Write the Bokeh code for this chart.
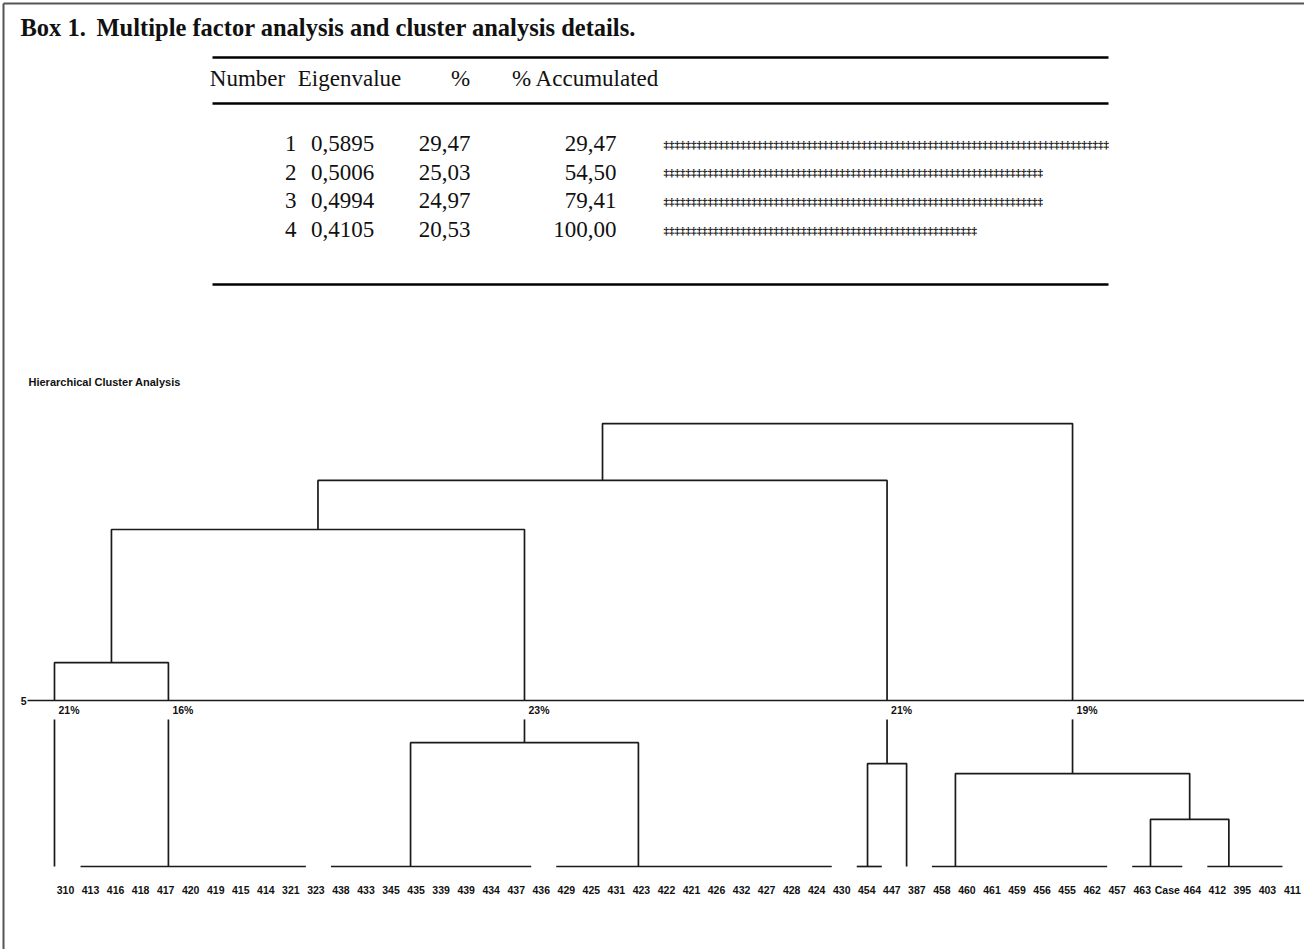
from bokeh.plotting import figure
from bokeh.models import Range1d
from bokeh.embed import file_html
from bokeh.resources import INLINE
from bokeh.core.properties import value

# ---------------- data ----------------
title_label = "Box 1."
title_text = "Multiple factor analysis and cluster analysis details."
table_headers = ["Number", "Eigenvalue", "%", "% Accumulated"]
factor_number = [1, 2, 3, 4]
eigenvalues = [0.5895, 0.5006, 0.4994, 0.4105]
percent_var = [29.47, 25.03, 24.97, 20.53]
percent_acc = [29.47, 54.50, 79.41, 100.00]

dendro_title = "Hierarchical Cluster Analysis"
leaf_labels = ["310", "413", "416", "418", "417", "420", "419", "415", "414", "321",
               "323", "438", "433", "345", "435", "339", "439", "434", "437", "436",
               "429", "425", "431", "423", "422", "421", "426", "432", "427", "428",
               "424", "430", "454", "447", "387", "458", "460", "461", "459", "456",
               "455", "462", "457", "463", "Case", "464", "412", "395", "403", "411"]

# groups of tied leaves (distance 0): first/last leaf index, position of their stem
group_first = [0, 1, 11, 20, 32, 33, 35, 43, 46]
group_last = [0, 9, 18, 30, 32, 33, 41, 44, 48]
group_anchor = [-0.44, 4.11, 13.78, 22.88, 32.03, 33.59, 35.54, 43.33, 46.46]
group_bar = [False, True, True, True, True, False, True, True, True]

# merges below the cut (ids: groups 0-8, then merges 9, 10, ...)
lower_merge_a = [2, 4, 7, 6]
lower_merge_b = [3, 5, 8, 11]
lower_merge_h = [3.73, 3.10, 1.42, 2.80]

cut_level = 5
cluster_nodes = [0, 1, 9, 10, 12]
cluster_pct = ["21%", "16%", "23%", "21%", "19%"]

# merges above the cut (new ids 13, 14, 15, 16)
upper_merge_a = [0, 13, 14, 15]
upper_merge_b = [1, 9, 10, 12]
upper_merge_h = [6.14, 10.15, 11.63, 13.34]

# ---------------- layout ----------------
W, H = 1304, 949
LEAF0, PITCH = 65.0, 25.04          # px of leaf 0, px per leaf
ZERO_Y, UNIT = 866.0, 33.2          # px of distance 0, px per distance unit

x_start = (0 - LEAF0) / PITCH
x_end = (W - LEAF0) / PITCH
y_start = (ZERO_Y - H) / UNIT
y_end = (ZERO_Y - 0) / UNIT

p = figure(width=W, height=H, x_range=Range1d(x_start, x_end), y_range=Range1d(y_start, y_end),
           output_backend="svg", toolbar_location=None, min_border=0,
           x_axis_location=None, y_axis_location=None)
p.grid.visible = False
p.outline_line_color = None
p.background_fill_color = "white"
p.extra_x_ranges = {"px": Range1d(0, W)}
p.extra_y_ranges = {"py": Range1d(H, 0)}

SERIF = value("Liberation Serif")
SANS = value("Liberation Sans")
INK = "#111111"

# frame (left and top edges of the box)
p.segment(x0=[3, 3], y0=[3, 3], x1=[3, W], y1=[H, 3],
          line_color="#555555", line_width=2, x_range_name="px", y_range_name="py")

# title
p.text(x=[20], y=[27], text=[title_label], text_font=SERIF, text_font_style="bold",
       text_font_size="24.5px", text_align="left", text_baseline="middle", text_color=INK,
       x_range_name="px", y_range_name="py")
p.text(x=[96], y=[27], text=[title_text], text_font=SERIF, text_font_style="bold",
       text_font_size="24.5px", text_align="left", text_baseline="middle", text_color=INK,
       x_range_name="px", y_range_name="py")

# table rules
p.segment(x0=[212, 212, 212], x1=[1108, 1108, 1108], y0=[57, 103, 284], y1=[57, 103, 284],
          line_color="black", line_width=2.6, x_range_name="px", y_range_name="py")

# header
hdr_x = [247, 349, 460, 659]
hdr_align = ["center", "center", "center", "right"]
for hx, ht, ha in zip(hdr_x, table_headers, hdr_align):
    p.text(x=[hx], y=[78], text=[ht], text_font=SERIF, text_font_size="23px",
           text_align=ha, text_baseline="middle", text_color=INK,
           x_range_name="px", y_range_name="py")

row_y = [143, 171.5, 200, 229]
fmt = lambda v, d: f"{v:.{d}f}".replace(".", ",")
p.text(x=[296] * 4, y=row_y, text=[str(n) for n in factor_number], text_font=SERIF,
       text_font_size="23px", text_align="right", text_baseline="middle", text_color=INK,
       x_range_name="px", y_range_name="py")
p.text(x=[342] * 4, y=row_y, text=[fmt(v, 4) for v in eigenvalues], text_font=SERIF,
       text_font_size="23px", text_align="center", text_baseline="middle", text_color=INK,
       x_range_name="px", y_range_name="py")
p.text(x=[444] * 4, y=row_y, text=[fmt(v, 2) for v in percent_var], text_font=SERIF,
       text_font_size="23px", text_align="center", text_baseline="middle", text_color=INK,
       x_range_name="px", y_range_name="py")
p.text(x=[616] * 4, y=row_y, text=[fmt(v, 2) for v in percent_acc], text_font=SERIF,
       text_font_size="23px", text_align="right", text_baseline="middle", text_color=INK,
       x_range_name="px", y_range_name="py")
# star bars proportional to eigenvalue
CHARS_PER_UNIT = 138
p.text(x=[663] * 4, y=row_y, text=["\u2021" * round(v * CHARS_PER_UNIT) for v in eigenvalues],
       text_font=SERIF, text_font_style="bold", text_font_size="11px", text_align="left",
       text_baseline="middle", text_color="#000000", x_range_name="px", y_range_name="py")

# dendrogram title
p.text(x=[28], y=[381], text=[dendro_title], text_font=SANS, text_font_style="bold",
       text_font_size="11px", text_align="left", text_baseline="middle", text_color=INK,
       x_range_name="px", y_range_name="py")

# ---------------- dendrogram ----------------
node_x = list(group_anchor)
node_h = [0.0] * len(group_anchor)
xs, ys = [], []
for a, b, h in zip(lower_merge_a, lower_merge_b, lower_merge_h):
    xs.append([node_x[a], node_x[a], node_x[b], node_x[b]])
    ys.append([node_h[a], h, h, node_h[b]])
    node_x.append((node_x[a] + node_x[b]) / 2)
    node_h.append(h)

clusters = set(cluster_nodes)
for a, b, h in zip(upper_merge_a, upper_merge_b, upper_merge_h):
    ha = cut_level if a in clusters else node_h[a]
    hb = cut_level if b in clusters else node_h[b]
    xs.append([node_x[a], node_x[a], node_x[b], node_x[b]])
    ys.append([ha, h, h, hb])
    node_x.append((node_x[a] + node_x[b]) / 2)
    node_h.append(h)

GAP_LOW = 4.43  # stems resume below the percentage labels
for c in cluster_nodes:
    xs.append([node_x[c], node_x[c]])
    ys.append([node_h[c], GAP_LOW])

for f, l, bar in zip(group_first, group_last, group_bar):
    if bar:
        xs.append([f - 0.4, l + 0.6])
        ys.append([0, 0])

p.multi_line(xs=xs, ys=ys, line_color="#1a1a1a", line_width=1.7)

# cut line and its level label
p.segment(x0=[27], x1=[W], y0=[cut_level], y1=[cut_level], line_color="#1a1a1a",
          line_width=1.7, x_range_name="px")
p.text(x=[26], y=[cut_level], text=[str(cut_level)], text_font=SANS, text_font_style="bold",
       text_font_size="10.5px", text_align="right", text_baseline="middle", text_color=INK,
       x_range_name="px")

# cluster percentages
pct_y = (cut_level + GAP_LOW) / 2
p.text(x=[node_x[c] for c in cluster_nodes], y=[pct_y] * len(cluster_nodes), text=cluster_pct,
       x_offset=4, text_font=SANS, text_font_style="bold", text_font_size="10.5px",
       text_align="left", text_baseline="middle", text_color=INK)

# leaf labels
LABEL_Y = -0.7
p.text(x=list(range(len(leaf_labels))), y=[LABEL_Y] * len(leaf_labels), text=leaf_labels,
       text_font=SANS, text_font_style="bold", text_font_size="10.5px", text_align="center",
       text_baseline="middle", text_color=INK)

open("out.html", "w").write(file_html(p, INLINE))
